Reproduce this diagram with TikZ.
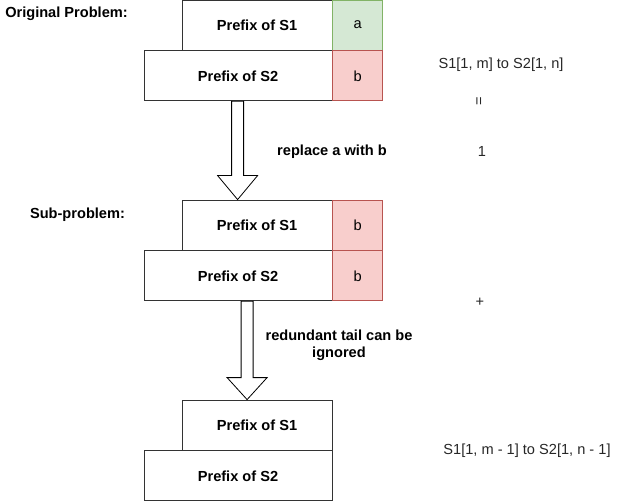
\documentclass[tikz,border=0pt]{standalone}
\usepackage{fontspec}
\setmainfont{Liberation Sans}
\usetikzlibrary{calc}
\definecolor{okfill}{HTML}{D5E8D4}
\definecolor{okline}{HTML}{82B366}
\definecolor{badfill}{HTML}{F8CECC}
\definecolor{badline}{HTML}{B85450}
\begin{document}
\begin{tikzpicture}[x=1pt,y=-1pt,
		box/.style={draw=black!80,line width=0.8pt,fill=white,minimum height=50pt,inner sep=0pt,font=\bfseries\fontsize{14.6}{17}\selectfont},
		cell/.style={line width=0.8pt,minimum width=50pt,minimum height=50pt,inner sep=0pt,font=\fontsize{14.6}{17}\selectfont},
		ok/.style={cell,draw=okline,fill=okfill},
		bad/.style={cell,draw=badline,fill=badfill},
		lbl/.style={font=\bfseries\fontsize{14.6}{17}\selectfont,align=center},
		note/.style={text=black!85,font=\fontsize{14.6}{17}\selectfont},
		blockarrow/.style={draw=black,line width=0.8pt,fill=white}]
		\useasboundingbox (0,0) rectangle (620,502);
		\def\shaft{6}
		\def\head{20}
		% original problem
		\node[lbl] (orig) at (66.5,14) {Original Problem:};
		\node[box,minimum width=150pt] (p1) at (257,25) {Prefix of S1};
		\node[ok,anchor=west] (a1) at (p1.east) {a};
		\node[box,minimum width=188pt,anchor=north east] (p2) at (p1.south east) {Prefix of S2};
		\node[bad,anchor=west] (b1) at (p2.east) {b};
		% sub-problem
		\node[lbl] (sub) at (77.5,215) {Sub-problem:};
		\node[box,minimum width=150pt] (q1) at (257,225) {Prefix of S1};
		\node[bad,anchor=west] (b2) at (q1.east) {b};
		\node[box,minimum width=188pt,anchor=north east] (q2) at (q1.south east) {Prefix of S2};
		\node[bad,anchor=west] (b3) at (q2.east) {b};
		% smaller problem
		\node[box,minimum width=150pt] (r1) at (257,425) {Prefix of S1};
		\node[box,minimum width=188pt,anchor=north east] (r2) at (r1.south east) {Prefix of S2};
		% arrows
		\coordinate (s1) at ($(p2.south west)+(94,0)$);
		\coordinate (t1) at ($(q1.north west)+(56,0)$);
		\draw[blockarrow] ($(s1)+(-\shaft,0)$) -- ($(t1)+(-\shaft,-24)$) -- ($(t1)+(-\head,-24)$) -- (t1)
			-- ($(t1)+(\head,-24)$) -- ($(t1)+(\shaft,-24)$) -- ($(s1)+(\shaft,0)$) -- cycle;
		\coordinate (s2) at ($(q2.south west)+(103.5,0)$);
		\coordinate (t2) at ($(r1.north west)+(65.5,0)$);
		\draw[blockarrow] ($(s2)+(-\shaft,0)$) -- ($(t2)+(-\shaft,-22)$) -- ($(t2)+(-\head,-22)$) -- (t2)
			-- ($(t2)+(\head,-22)$) -- ($(t2)+(\shaft,-22)$) -- ($(s2)+(\shaft,0)$) -- cycle;
		\node[lbl] (step1) at (332,152) {replace a with b};
		\node[lbl] (step2) at (339,345) {redundant tail can be\\ignored};
		% right side
		\node[note] (lhs) at (501,65) {S1[1, m] to S2[1, n]};
		\node[note,rotate=90] (eq) at (480,101) {=};
		\node[note] (one) at (482,151) {1};
		\node[note] (plus) at (480,302) {+};
		\node[note] (rhs) at (527,451) {S1[1, m - 1] to S2[1, n - 1]};
	\end{tikzpicture}
\end{document}
